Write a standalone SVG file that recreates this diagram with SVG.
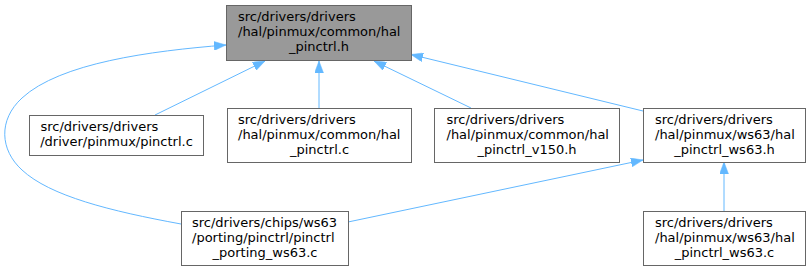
<svg xmlns="http://www.w3.org/2000/svg" width="810" height="271" viewBox="0 0 810 271">
<style>
.bg{fill:#ffffff}
.n rect{fill:#ffffff;stroke:#666666;stroke-width:1}
.n.cur rect{fill:#999999}
.n text{font-family:"DejaVu Sans","Liberation Sans",sans-serif;font-size:13px;fill:#000000}
.n text.c{text-anchor:middle}
.e path{fill:none;stroke:#63b8ff;stroke-width:1;marker-end:url(#ah)}
</style>
<defs>
<marker id="ah" viewBox="0 0 12 9" refX="12" refY="4.5" markerWidth="12" markerHeight="9" markerUnits="userSpaceOnUse" orient="auto">
<path d="M0,0 L12,4.5 L0,9 z" fill="#63b8ff" stroke="#63b8ff" stroke-width="0.5"/>
</marker>
</defs>
<rect class="bg" x="0" y="0" width="810" height="271"/>
<g id="edges" class="e">
<path d="M155,115 L265,61"/>
<path d="M319,108 L319,61"/>
<path d="M471,108 L374,61"/>
<path d="M643,111 L411,54.5"/>
<path d="M181,224 C110,211 50,196 22,170 C0,150 -2,120 22,98 C60,63 150,51 226,45"/>
<path d="M348,222 L643,160"/>
<path d="M724,211 L724,162"/>
</g>
<g id="node1" class="n cur">
<rect x="226.5" y="5.5" width="185" height="55"/>
<text x="238" y="21">src/drivers/drivers</text>
<text x="238" y="36">/hal/pinmux/common/hal</text>
<text class="c" x="319" y="51">_pinctrl.h</text>
</g>
<g id="node2" class="n">
<rect x="29.5" y="115.5" width="174" height="40"/>
<text x="40.5" y="131">src/drivers/drivers</text>
<text class="c" x="116.5" y="146">/driver/pinmux/pinctrl.c</text>
</g>
<g id="node3" class="n">
<rect x="227.5" y="108.5" width="184" height="54"/>
<text x="238" y="124">src/drivers/drivers</text>
<text x="238" y="139">/hal/pinmux/common/hal</text>
<text class="c" x="319.5" y="154">_pinctrl.c</text>
</g>
<g id="node4" class="n">
<rect x="434.5" y="108.5" width="185" height="54"/>
<text x="446.5" y="124">src/drivers/drivers</text>
<text x="446.5" y="139">/hal/pinmux/common/hal</text>
<text class="c" x="527" y="154">_pinctrl_v150.h</text>
</g>
<g id="node5" class="n">
<rect x="643.5" y="108.5" width="162" height="54"/>
<text x="655" y="124">src/drivers/drivers</text>
<text x="655" y="139">/hal/pinmux/ws63/hal</text>
<text class="c" x="724.5" y="154">_pinctrl_ws63.h</text>
</g>
<g id="node6" class="n">
<rect x="181.5" y="211.5" width="167" height="54"/>
<text x="192" y="227">src/drivers/chips/ws63</text>
<text x="192" y="242">/porting/pinctrl/pinctrl</text>
<text class="c" x="265" y="257">_porting_ws63.c</text>
</g>
<g id="node7" class="n">
<rect x="643.5" y="211.5" width="162" height="54"/>
<text x="655" y="227">src/drivers/drivers</text>
<text x="655" y="242">/hal/pinmux/ws63/hal</text>
<text class="c" x="724.5" y="257">_pinctrl_ws63.c</text>
</g>
</svg>
